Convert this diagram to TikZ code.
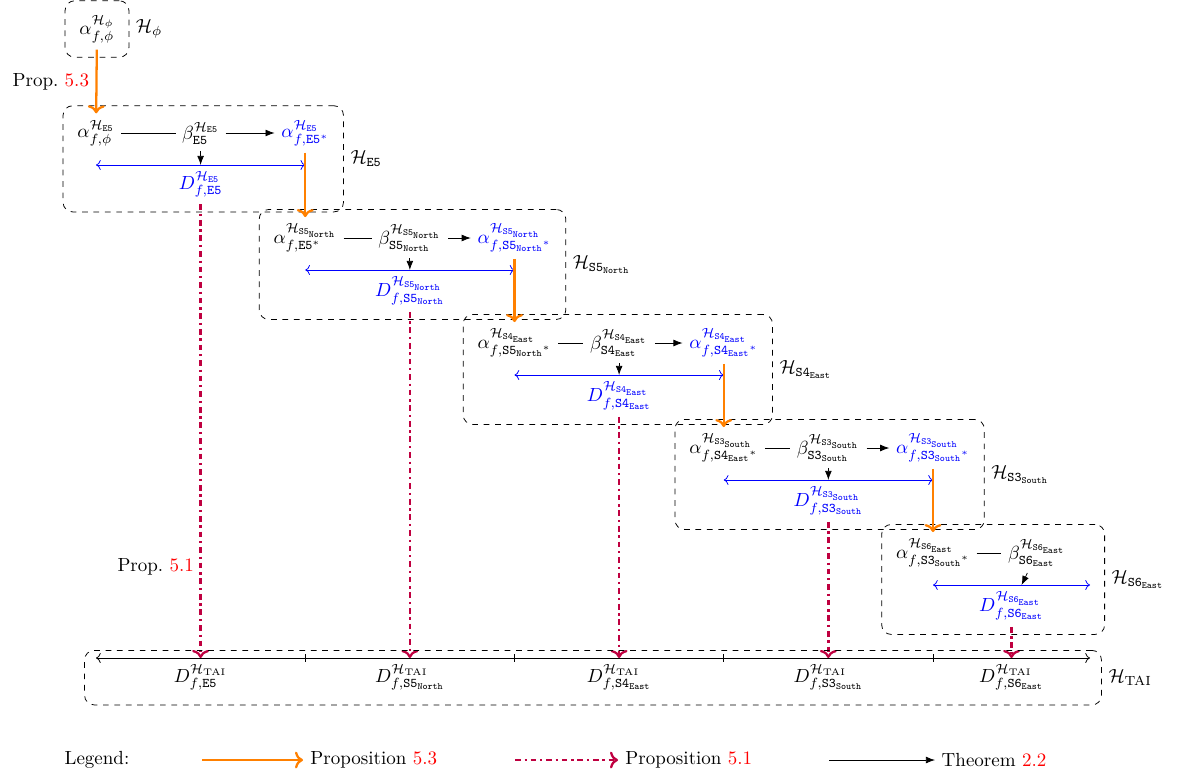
\documentclass[tikz,border=0pt]{standalone}
\usepackage{amsmath,amssymb}
\usepackage{tikz}
\usetikzlibrary{arrows.meta, positioning, calc, fit}
\usepackage{xcolor}

\tikzset{
  grp/.style={draw, dashed, rounded corners=5pt, inner sep=4pt},
  prop53/.style={->, orange, very thick},
  prop51/.style={->, purple, very thick, dashdotted},
  thm/.style={-Latex},
  dlink/.style={<->, blue},
}

\begin{document}
\begin{tikzpicture}[x=0.0185cm, y=-0.0185cm]
\useasboundingbox (0,0) rectangle (1177,780);
% initial hypothesis
\node (a0) at (97,29) {$\alpha^{\mathcal{H}_\phi}_{f,\phi}$};
\node[grp, fit=(a0)] (g0) {};
\node[right=0pt of g0] (h0) {$\mathcal{H}_\phi$};
% TAI axis
\coordinate (ax0) at (96,658);
\coordinate (ax5) at (1090,658);
\draw[<->] (ax0) -- (ax5);
% one box per region: alpha -- beta -> alpha*, with its local D
\foreach \i/\r/\p in {1/{\mathtt{E5}}/{\phi},
    2/{\mathtt{S5}_{\mathtt{North}}}/{\mathtt{E5}^*},
    3/{\mathtt{S4}_{\mathtt{East}}}/{{\mathtt{S5}_{\mathtt{North}}}^*},
    4/{\mathtt{S3}_{\mathtt{South}}}/{{\mathtt{S4}_{\mathtt{East}}}^*}} {
  \pgfmathsetmacro{\xl}{96+209.25*(\i-1)}
  \pgfmathsetmacro{\xr}{\xl+209.25}
  \pgfmathsetmacro{\xm}{\xl+104.6}
  \pgfmathsetmacro{\yr}{28+105*\i}
  \node (a\i) at (\xl,\yr) {$\alpha^{\mathcal{H}_{\r}}_{f,\p}$};
  \node (b\i) at (\xm,\yr) {$\beta^{\mathcal{H}_{\r}}_{\r}$};
  \node[blue] (s\i) at (\xr,\yr) {$\alpha^{\mathcal{H}_{\r}}_{f,{\r}^*}$};
  \coordinate (l\i) at (\xl,\yr+32);
  \coordinate (r\i) at (\xr,\yr+32);
  \node[blue, anchor=north] (d\i) at (\xm,\yr+32) {$D^{\mathcal{H}_{\r}}_{f,\r}$};
  \draw (a\i) -- (b\i);
  \draw[thm] (b\i) -- (s\i);
  \draw[thm] (b\i) -- (d\i);
  \draw[dlink] (l\i) -- (r\i);
  \node[grp, fit=(a\i)(s\i)(d\i)] (g\i) {};
  \node[right=0pt of g\i] (h\i) {$\mathcal{H}_{\r}$};
  % projection on TAI
  \node[anchor=north] (t\i) at (\xm,658) {$D^{\mathcal{H}_{\mathrm{TAI}}}_{f,\r}$};
  \draw (\xr,654) -- (\xr,662);
  \draw[prop51] (d\i) -- (t\i);
}
% last region has no alpha*
\node (a5) at (933,553) {$\alpha^{\mathcal{H}_{\mathtt{S6}_{\mathtt{East}}}}_{f,{\mathtt{S3}_{\mathtt{South}}}^*}$};
\node (b5) at (1037,553) {$\beta^{\mathcal{H}_{\mathtt{S6}_{\mathtt{East}}}}_{\mathtt{S6}_{\mathtt{East}}}$};
\coordinate (l5) at (933,585);
\coordinate (r5) at (1090,585);
\coordinate (e5) at (1097,585);
\node[blue, anchor=north] (d5) at (1011.5,585) {$D^{\mathcal{H}_{\mathtt{S6}_{\mathtt{East}}}}_{f,\mathtt{S6}_{\mathtt{East}}}$};
\draw (a5) -- (b5);
\draw[thm] (b5) -- (d5);
\draw[dlink] (l5) -- (r5);
\node[grp, fit=(a5)(b5)(d5)(e5)] (g5) {};
\node[right=0pt of g5] (h5) {$\mathcal{H}_{\mathtt{S6}_{\mathtt{East}}}$};
\node[anchor=north] (t5) at (1011.5,658) {$D^{\mathcal{H}_{\mathrm{TAI}}}_{f,\mathtt{S6}_{\mathtt{East}}}$};
\draw[prop51] (d5) -- (t5);
\node[grp, inner xsep=6pt, fit=(ax0)(ax5)(t1)(t5)] (gt) {};
\node[right=0pt of gt] (ht) {$\mathcal{H}_{\mathrm{TAI}}$};
% chaining alpha* to the next box
\draw[prop53] (a0) -- (a1) node[midway, left, black] {Prop.~\textcolor{red}{5.3}};
\foreach \i [evaluate=\i as \j using int(\i+1)] in {1,...,4} {
  \draw[prop53] (s\i) -- (a\j);
}
\node[left] at ($(d1.south)!0.8!(t1.north)$) {Prop.~\textcolor{red}{5.1}};
% legend
\node (leg) at (97,760) {Legend:};
\coordinate (o1) at (202,760); \coordinate (o2) at (303,760);
\coordinate (p1) at (515,760); \coordinate (p2) at (618,760);
\coordinate (k1) at (829,760); \coordinate (k2) at (935,760);
\draw[prop53] (o1) -- (o2) node[right, black] {Proposition \textcolor{red}{5.3}};
\draw[prop51] (p1) -- (p2) node[right, black] {Proposition \textcolor{red}{5.1}};
\draw[thm] (k1) -- (k2) node[right] {Theorem \textcolor{red}{2.2}};
\end{tikzpicture}
\end{document}
